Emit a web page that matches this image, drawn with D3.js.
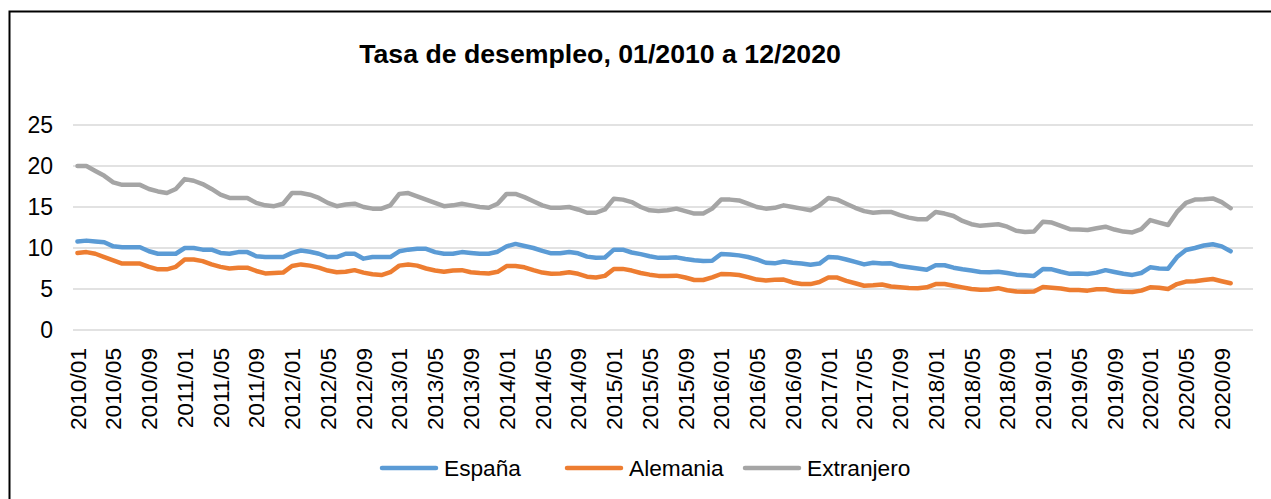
<!DOCTYPE html>
<html>
<head>
<meta charset="utf-8">
<script src="https://cdn.jsdelivr.net/npm/d3@7"></script>
<style>
  body { margin: 0; background: #fff; }
  svg { display: block; font-family: "Liberation Sans", Arial, sans-serif; }
</style>
</head>
<body>
<svg id="chart" width="1271" height="499"></svg>
<script>
// Monthly unemployment rate (%) 2010/01 .. 2020/10, axis runs to 2020/12
const years = d3.range(2010, 2021);
const months = ["01","02","03","04","05","06","07","08","09","10","11","12"];
const categories = years.flatMap(y => months.map(m => `${y}/${m}`));

const espana = [
  10.8,10.9,10.8,10.7,10.2,10.1,10.1,10.1,9.6,9.3,9.3,9.3,
  10.0,10.0,9.8,9.8,9.4,9.3,9.5,9.5,9.0,8.9,8.9,8.9,
  9.4,9.7,9.55,9.3,8.9,8.9,9.3,9.3,8.7,8.9,8.9,8.9,
  9.6,9.8,9.9,9.9,9.5,9.3,9.3,9.5,9.4,9.3,9.3,9.55,
  10.2,10.5,10.25,10.0,9.65,9.35,9.35,9.5,9.35,8.95,8.8,8.85,
  9.8,9.8,9.45,9.25,9.0,8.8,8.8,8.86,8.66,8.5,8.42,8.45,
  9.27,9.2,9.1,8.9,8.6,8.2,8.13,8.35,8.2,8.1,7.95,8.1,
  8.9,8.85,8.6,8.3,8.0,8.2,8.1,8.13,7.8,7.65,7.5,7.35,
  7.9,7.9,7.6,7.4,7.25,7.08,7.05,7.1,6.95,6.75,6.67,6.6,
  7.44,7.4,7.1,6.85,6.9,6.83,7.0,7.3,7.07,6.85,6.72,6.95,
  7.64,7.5,7.48,8.9,9.76,10.0,10.3,10.45,10.2,9.6
];
const alemania = [
  9.4,9.5,9.3,8.9,8.5,8.1,8.1,8.1,7.7,7.4,7.4,7.7,
  8.6,8.6,8.4,8.0,7.7,7.5,7.6,7.6,7.2,6.9,6.95,7.0,
  7.8,8.0,7.85,7.6,7.25,7.05,7.1,7.3,7.0,6.8,6.7,7.05,
  7.85,8.0,7.85,7.5,7.25,7.1,7.25,7.3,7.05,6.95,6.9,7.1,
  7.8,7.8,7.65,7.3,7.0,6.85,6.9,7.05,6.85,6.5,6.4,6.6,
  7.45,7.45,7.25,6.95,6.75,6.6,6.6,6.63,6.4,6.1,6.1,6.42,
  6.83,6.8,6.7,6.45,6.15,6.05,6.12,6.15,5.8,5.6,5.6,5.85,
  6.4,6.4,6.0,5.7,5.4,5.45,5.55,5.3,5.2,5.12,5.1,5.2,
  5.6,5.6,5.4,5.2,5.0,4.9,4.95,5.1,4.85,4.7,4.67,4.7,
  5.25,5.16,5.05,4.88,4.88,4.8,4.96,4.96,4.76,4.67,4.63,4.8,
  5.2,5.16,5.0,5.6,5.9,5.95,6.1,6.22,5.95,5.7
];
const extranjero = [
  20.0,20.0,19.4,18.8,18.0,17.7,17.7,17.7,17.2,16.9,16.7,17.2,
  18.4,18.2,17.8,17.2,16.5,16.1,16.1,16.1,15.5,15.2,15.1,15.4,
  16.7,16.7,16.5,16.1,15.5,15.1,15.3,15.4,15.0,14.8,14.8,15.2,
  16.6,16.7,16.3,15.9,15.5,15.1,15.2,15.4,15.2,15.0,14.9,15.4,
  16.6,16.6,16.2,15.7,15.2,14.9,14.9,15.0,14.7,14.3,14.3,14.7,
  16.0,15.9,15.6,15.0,14.6,14.5,14.6,14.8,14.5,14.2,14.2,14.8,
  15.9,15.9,15.8,15.4,15.0,14.8,14.9,15.2,15.0,14.8,14.6,15.2,
  16.1,15.9,15.4,14.9,14.5,14.3,14.4,14.4,14.0,13.7,13.5,13.5,
  14.4,14.2,13.9,13.3,12.9,12.7,12.8,12.9,12.6,12.1,11.95,12.0,
  13.2,13.1,12.7,12.3,12.25,12.2,12.4,12.6,12.25,12.0,11.9,12.3,
  13.4,13.1,12.8,14.4,15.5,15.9,15.95,16.05,15.6,14.85
];
const yTicks = [0, 5, 10, 15, 20, 25];
const seriesNames = ["España", "Alemania", "Extranjero"];
const seriesColors = ["#5b9bd5", "#ed7d31", "#a5a5a5"];
const titleText = "Tasa de desempleo, 01/2010 a 12/2020";

const svg = d3.select("#chart");
const width = 1271, height = 499;
const plotLeft = 73, plotRight = 1253, plotTop = 125, plotBottom = 330;

// outer chart border (only the top and left edges fall inside the picture)
svg.append("rect")
  .attr("x", 9.5).attr("y", 11.5)
  .attr("width", width + 20).attr("height", height + 20)
  .attr("fill", "none").attr("stroke", "#000").attr("stroke-width", 2);

const x = d3.scalePoint().domain(categories).range([plotLeft, plotRight]).padding(0.5);
const y = d3.scaleLinear().domain([0, 25]).range([plotBottom, plotTop]);

// gridlines
svg.append("g").selectAll("line")
  .data(yTicks)
  .join("line")
  .attr("x1", plotLeft).attr("x2", plotRight)
  .attr("y1", d => y(d)).attr("y2", d => y(d))
  .attr("stroke", "#d9d9d9").attr("stroke-width", 1.5);

// y labels
svg.append("g").selectAll("text")
  .data(yTicks)
  .join("text")
  .attr("x", 53).attr("y", d => y(d))
  .attr("dy", "0.35em")
  .attr("text-anchor", "end")
  .attr("font-size", 23)
  .attr("fill", "#000")
  .text(d => d);

// x labels, every 4th month, rotated
const xLabels = categories.filter((d, i) => i % 4 === 0);
svg.append("g").selectAll("text")
  .data(xLabels)
  .join("text")
  .attr("transform", d => `translate(${x(d)},348) rotate(-90)`)
  .attr("dy", "0.36em")
  .attr("text-anchor", "end")
  .attr("font-size", 22.7)
  .attr("fill", "#000")
  .text(d => d);

// lines
const series = [espana, alemania, extranjero];
const line = d3.line()
  .x((d, i) => x(categories[i]))
  .y(d => y(d));

svg.append("g").selectAll("path")
  .data(series)
  .join("path")
  .attr("d", d => line(d))
  .attr("fill", "none")
  .attr("stroke", (d, i) => seriesColors[i])
  .attr("stroke-width", 4.5)
  .attr("stroke-linejoin", "round")
  .attr("stroke-linecap", "round");

// title
svg.append("text")
  .attr("x", 600).attr("y", 63)
  .attr("text-anchor", "middle")
  .attr("font-size", 26.7)
  .attr("font-weight", "bold")
  .attr("fill", "#000")
  .text(titleText);

// legend
const legendX = [382, 567, 745];
const legend = svg.append("g").selectAll("g")
  .data(seriesNames)
  .join("g")
  .attr("transform", (d, i) => `translate(${legendX[i]},468)`);

legend.append("line")
  .attr("x1", 0).attr("x2", 54)
  .attr("stroke", (d, i) => seriesColors[i])
  .attr("stroke-width", 4.5)
  .attr("stroke-linecap", "round");

legend.append("text")
  .attr("x", 62).attr("dy", "0.35em")
  .attr("font-size", 22.7)
  .attr("fill", "#000")
  .text(d => d);
</script>
</body>
</html>
